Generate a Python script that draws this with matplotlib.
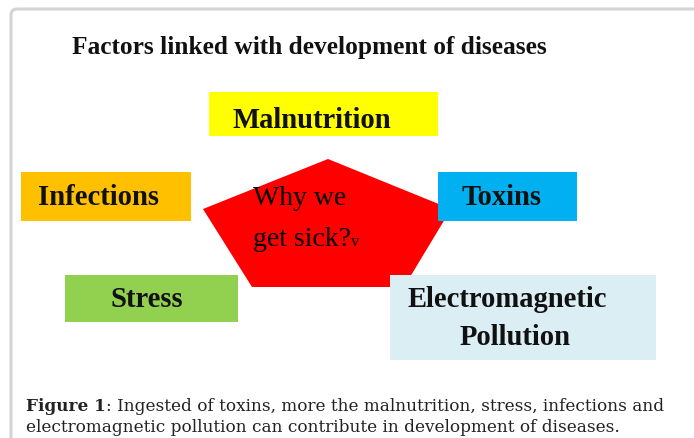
import matplotlib
matplotlib.use('Agg')
import matplotlib.pyplot as plt
from matplotlib.patches import Rectangle, Polygon, FancyBboxPatch

# Diagram content
title = 'Factors linked with development of diseases'
factors = ['Malnutrition', 'Infections', 'Toxins', 'Stress', 'Electromagnetic', 'Pollution']
factor_colors = ['#ffff00', '#ffc000', '#00b0f0', '#92d050', '#daeef3']
center_text = ['Why we', 'get sick?']
caption_bold = 'Figure 1'
caption_lines = [': Ingested of toxins, more the malnutrition, stress, infections and',
                 'electromagnetic pollution can contribute in development of diseases.']

# layout in pixels (x0, y0, x1, y1), text anchor (x, baseline)
boxes = [(209, 93, 438, 137), (21, 173, 191, 222), (438, 173, 577, 222),
         (65, 276, 238, 323), (390, 276, 656, 361)]
text_pos = [(233, 128), (38, 205), (462, 205), (111, 307), (408, 307), (460, 345)]
pentagon = [(328, 160), (451, 210), (404, 288), (252, 288), (203, 210)]

serif = ['Liberation Serif', 'DejaVu Serif']
cap_font = ['DejaVu Serif']

fig = plt.figure(figsize=(6.94, 4.39), dpi=100)
ax = fig.add_axes([0, 0, 1, 1])
ax.set_xlim(0, 694)
ax.set_ylim(439, 0)
ax.axis('off')

# outer frame (only top and left visible)
frame = FancyBboxPatch((11, 10), 720, 460, boxstyle='round,pad=0,rounding_size=6',
                       fc='none', ec='#d4d4d4', lw=2.2)
ax.add_patch(frame)

ax.text(72, 54, title, fontsize=18.3, fontweight='bold', family=serif,
        ha='left', va='baseline', color='#111111')

ax.add_patch(Polygon(pentagon, closed=True, fc='#ff0000', ec='none', zorder=1))

for (x0, y0, x1, y1), c in zip(boxes, factor_colors):
    ax.add_patch(Rectangle((x0, y0), x1 - x0, y1 - y0, fc=c, ec='none', zorder=2))

for (x, y), lab in zip(text_pos, factors):
    ax.text(x, y, lab, fontsize=20.6, fontweight='bold', family=serif, ha='left',
            va='baseline', color='#111111', zorder=3)

ax.text(253, 205, center_text[0], fontsize=20, family=serif, ha='left', va='baseline', zorder=3)
t = ax.text(253, 246, center_text[1], fontsize=20, family=serif, ha='left', va='baseline', zorder=3)
r = fig.canvas.get_renderer()
bb = t.get_window_extent(renderer=r)
xe = ax.transData.inverted().transform((bb.x1, bb.y0))[0]
ax.text(xe, 246, 'v', fontsize=12, family=serif, ha='left', va='baseline', zorder=3)

cb = ax.text(26, 411, caption_bold, fontsize=12.2, fontweight='bold', family=cap_font,
             ha='left', va='baseline', color='#222222')
bb = cb.get_window_extent(renderer=r)
xe = ax.transData.inverted().transform((bb.x1, bb.y0))[0]
ax.text(xe, 411, caption_lines[0], fontsize=12.2, family=cap_font, ha='left', va='baseline', color='#222222')
ax.text(26, 432, caption_lines[1], fontsize=12.2, family=cap_font, ha='left', va='baseline', color='#222222')

fig.savefig('out.png', dpi=100)
